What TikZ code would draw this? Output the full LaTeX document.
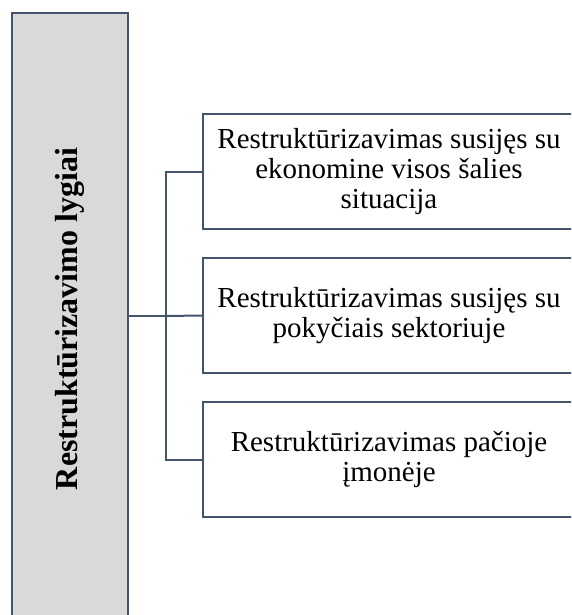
\documentclass[tikz,border=0pt]{standalone}
\usepackage{fontspec}
\setmainfont{Liberation Serif}
\definecolor{frame}{HTML}{44546A}
\definecolor{panel}{HTML}{D9D9D9}
\begin{document}
\begin{tikzpicture}[x=1pt,y=-1pt,
  levelbox/.style={draw=frame,line width=2pt,fill=panel,minimum width=116pt,minimum height=606pt,inner sep=0pt},
  itembox/.style={draw=frame,line width=2pt,fill=white,minimum width=372pt,minimum height=115pt,inner sep=4pt,align=center,font=\fontsize{29}{30}\selectfont},
  link/.style={draw=frame,line width=2pt}]
\useasboundingbox (0,0) rectangle (571,615);
\clip (0,0) rectangle (571,615);
\node[levelbox] (lvl) at (70,316) {};
\node[rotate=90,font=\fontsize{32}{34}\selectfont\bfseries] (lvltxt) at (70,319) {Restruktūrizavimo lygiai};
\node[itembox] (b1) at (389,171.5) {Restruktūrizavimas susijęs su\\ekonomine visos šalies\\situacija};
\node[itembox] (b2) at (389,315.5) {Restruktūrizavimas susijęs su\\pokyčiais sektoriuje};
\node[itembox] (b3) at (389,459.5) {Restruktūrizavimas pačioje\\įmonėje};
\coordinate (jn) at (165.5,316);
\path[link] (lvl.east |- jn) -- (jn);
\path[link] (b1.west) -| (jn) |- (b3.west);
\path[link] (jn) -- (b2.west);
\end{tikzpicture}
\end{document}
